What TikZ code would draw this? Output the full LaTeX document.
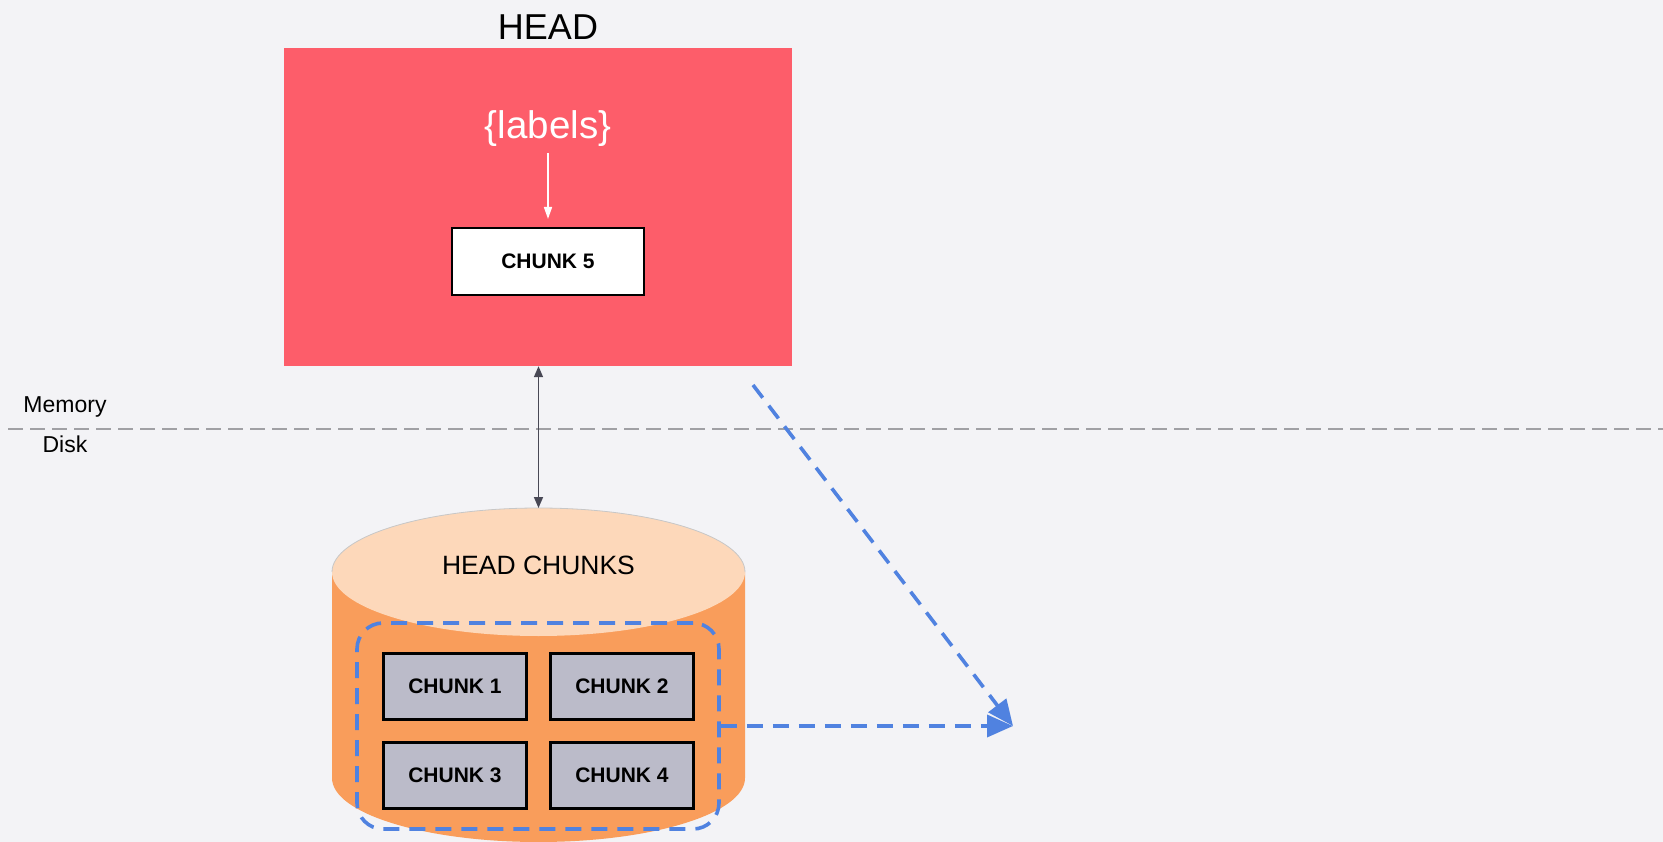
\documentclass[tikz,border=0pt]{standalone}
\usepackage{fontspec}
\setmainfont{Liberation Sans}
\usetikzlibrary{arrows.meta}

\definecolor{bgcol}{HTML}{F3F3F6}
\definecolor{headred}{HTML}{FD5D6A}
\definecolor{chunkgray}{HTML}{BBBBC9}
\definecolor{diskface}{HTML}{FDD8BA}
\definecolor{diskbody}{HTML}{F99D5B}
\definecolor{flowblue}{HTML}{5082E0}
\definecolor{splitgray}{HTML}{A0A0A4}
\definecolor{linkgray}{HTML}{484855}

\tikzset{
  chunkbox/.style={draw=black, line width=2.3pt, fill=chunkgray, minimum width=143pt,
    minimum height=66pt, inner sep=0pt, font=\fontsize{21}{24}\selectfont\bfseries},
  flow/.style={draw=flowblue, line width=3.6pt, dash pattern=on 16pt off 10pt,
    -{Triangle[length=26pt,width=22pt]}},
  tiertext/.style={font=\fontsize{23}{27}\selectfont, inner sep=0pt},
}

\begin{document}
\begin{tikzpicture}[x=1pt,y=-1pt]
  % canvas
  \fill[bgcol] (0,0) rectangle (1663,842);
  \useasboundingbox (0,0) rectangle (1663,842);
  \clip (0,0) rectangle (1663,842);

  % memory / disk boundary
  \draw[splitgray, line width=2pt, dash pattern=on 15pt off 7pt] (8,429) -- (1663,429);
  \node[tiertext] (memlbl) at (65,407) {Memory};
  \node[tiertext] (disklbl) at (65,444) {Disk};

  % in-memory head block
  \node[fill=headred, minimum width=508pt, minimum height=318pt, inner sep=0pt] (head) at (538,207) {};
  \node[font=\fontsize{36}{40}\selectfont, inner sep=0pt] (headtitle) at (548,27) {HEAD};
  \node[font=\fontsize{38.5}{44}\selectfont, text=white, inner sep=0pt] (labels) at (548,129) {\{labels\}};
  \node[draw=black, line width=2.3pt, fill=white, minimum width=192pt, minimum height=67pt,
        inner sep=0pt, font=\fontsize{21}{24}\selectfont\bfseries] (chunk5) at (548,261.5) {CHUNK 5};
  \draw[white, line width=1.6pt, -{Triangle[length=12pt,width=8pt]}] (548,153) -- (chunk5.north |- 0,219);

  % on-disk head chunks (cylinder)
  \fill[diskbody] (332,572) -- (332,778) arc[start angle=180, end angle=0, x radius=206.5, y radius=64]
        -- (745,572) -- cycle;
  \fill[diskface] (538.5,572) ellipse[x radius=206.5, y radius=64];
  \draw[black!22, line width=0.8pt] (332,572) arc[start angle=180, end angle=360, x radius=206.5, y radius=64];
  \coordinate (disktop) at (538.5,508);

  \draw[linkgray, line width=1.6pt, {Triangle[length=11pt,width=9pt]}-{Triangle[length=11pt,width=9pt]}]
        (head.south -| disktop) -- (disktop);

  \node[font=\fontsize{26.5}{30}\selectfont, inner sep=0pt] (disktitle) at (538.5,565) {HEAD CHUNKS};

  \node[chunkbox] (c1) at (455,686.5) {CHUNK 1};
  \node[chunkbox] (c2) at (622,686.5) {CHUNK 2};
  \node[chunkbox] (c3) at (455,775.5) {CHUNK 3};
  \node[chunkbox] (c4) at (622,775.5) {CHUNK 4};

  \node[draw=flowblue, line width=3.6pt, dash pattern=on 16pt off 10pt, rounded corners=26pt,
        minimum width=362pt, minimum height=206pt, inner sep=0pt] (group) at (538,726) {};

  % flows towards the new block
  \coordinate (target) at (1013,726);
  \coordinate (headout) at (753,385);
  \draw[flow] (headout) -- (target);
  \draw[flow] (group.east) -- (target);
\end{tikzpicture}
\end{document}
